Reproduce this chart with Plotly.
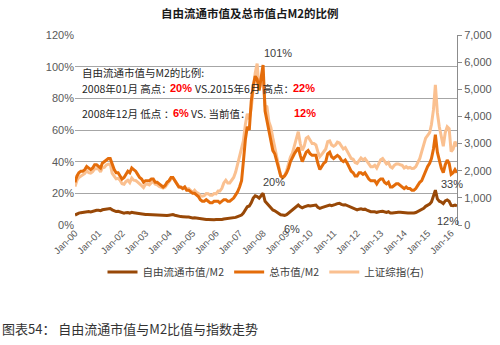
import pandas as pd
import plotly.graph_objects as go

# Monthly observations, Jan 2000 - Apr 2016
dates = pd.date_range("2000-01-01", periods=196, freq="MS")

# Free-float market cap / M2 (%)
free_float_m2 = [
    6.3, 7.0, 7.5, 7.8, 8.0, 8.2, 8.6, 8.5, 8.3, 8.6, 9.2, 9.3,
    9.3, 9.0, 9.6, 9.8, 10.2, 10.5, 10.4, 9.6, 9.0, 8.5, 8.6, 8.2,
    7.6, 7.5, 7.8, 7.9, 7.5, 8.0, 7.8, 7.6, 7.3, 7.0, 6.8, 6.5,
    6.7, 6.7, 6.6, 6.8, 6.8, 6.5, 6.4, 6.2, 6.0, 5.8, 5.8, 6.0,
    6.2, 6.5, 6.6, 6.2, 5.8, 5.4, 5.3, 5.2, 5.3, 5.0, 5.0, 4.7,
    4.5, 4.6, 4.4, 4.2, 3.8, 3.5, 3.4, 3.5, 3.5, 3.3, 3.2, 3.3,
    3.4, 3.4, 3.3, 3.5, 3.8, 4.0, 4.0, 4.0, 4.2, 4.5, 4.8, 5.3,
    5.8, 6.3, 7.5, 9.5, 11.5, 12.0, 14.0, 17.0, 18.5, 18.0, 17.0, 18.5,
    20.0, 15.0, 13.7, 12.5, 11.5, 9.5, 9.0, 8.0, 7.4, 6.5, 6.3, 6.0,
    6.5, 7.5, 8.5, 9.5, 10.5, 11.5, 12.6, 11.5, 10.8, 11.4, 12.0, 12.3,
    12.0, 12.2, 12.4, 12.6, 11.2, 10.5, 11.0, 11.5, 11.8, 12.6, 12.6, 12.2,
    12.4, 13.0, 13.5, 13.7, 13.0, 12.6, 12.8, 12.2, 11.6, 11.0, 10.8, 9.8,
    9.5, 10.0, 10.2, 9.8, 10.0, 9.4, 8.8, 8.4, 8.3, 8.4, 8.0, 8.4,
    8.6, 8.7, 8.3, 8.0, 8.4, 7.6, 7.6, 7.9, 8.2, 8.1, 8.0, 7.8,
    7.6, 7.8, 7.6, 7.6, 7.5, 7.6, 7.9, 8.6, 9.3, 9.8, 10.6, 11.8,
    12.6, 13.2, 14.5, 18.0, 22.0, 16.5, 15.0, 14.5, 13.5, 15.2, 15.8, 15.0,
    12.4, 12.2, 12.6, 12.0,
]

# Total market cap / M2 (%)
total_m2 = [
    27, 31, 33, 34, 34, 35, 37, 36, 35, 36, 38, 38,
    37, 36, 39, 40, 41, 42, 42, 38, 35, 33, 33, 31,
    29, 30, 32, 34, 33, 36, 35, 34, 32, 30, 29, 27,
    28, 28, 28, 29, 29, 27, 27, 26, 25, 24, 25, 27,
    28, 30, 30, 28, 26, 24, 24, 23, 24, 22, 22, 21,
    20, 20, 19, 18, 16, 15, 15, 16, 15, 14, 14, 15,
    15, 15, 14, 15, 16, 16, 15, 15, 16, 17, 19, 21,
    24, 28, 40, 54, 62, 60, 78, 88, 94, 92, 85, 92,
    101, 72, 66, 60, 55, 47, 45, 40, 36, 31, 30, 31,
    33, 36, 40, 43, 45, 47, 49, 44, 40, 43, 46, 47,
    45, 44, 44, 44, 39, 35, 37, 39, 40, 45, 46, 43,
    42, 43, 44, 43, 41, 40, 41, 39, 36, 34, 33, 31,
    31, 33, 33, 32, 33, 31, 29, 28, 28, 28, 26, 28,
    29, 29, 27, 26, 27, 24, 24, 25, 26, 26, 25, 24,
    23, 24, 23, 23, 22, 22, 23, 25, 27, 28, 31, 35,
    37, 39, 42, 48, 57, 46, 40, 36, 33, 38, 41, 39,
    32, 33, 35, 33,
]

# Shanghai Composite Index (right axis)
sh_composite = [
    1420, 1650, 1750, 1800, 1830, 1900, 2000, 1930, 1910, 1960, 2070, 2070,
    2070, 1960, 2110, 2120, 2210, 2240, 2250, 1900, 1800, 1700, 1720, 1650,
    1520, 1500, 1600, 1650, 1560, 1730, 1650, 1640, 1580, 1500, 1450, 1380,
    1500, 1510, 1480, 1560, 1580, 1500, 1480, 1420, 1380, 1360, 1400, 1500,
    1600, 1700, 1740, 1620, 1550, 1420, 1380, 1360, 1400, 1320, 1340, 1270,
    1200, 1280, 1200, 1160, 1080, 1060, 1080, 1160, 1150, 1100, 1100, 1160,
    1150, 1250, 1250, 1350, 1550, 1650, 1550, 1550, 1650, 1750, 1950, 2250,
    2600, 2800, 3100, 3700, 4100, 3900, 4300, 5000, 5600, 5950, 5000, 5200,
    5400, 4400, 4360, 3800, 3600, 3200, 2900, 2500, 2150, 1800, 1730, 1820,
    2000, 2300, 2500, 2650, 2900, 3200, 3440, 3000, 2750, 2900, 3200, 3250,
    3100, 3000, 3000, 2950, 2700, 2520, 2600, 2700, 2800, 3070, 3100, 2950,
    2900, 2950, 3050, 3020, 2900, 2800, 2850, 2700, 2550, 2450, 2420, 2300,
    2270, 2400, 2470, 2400, 2450, 2350, 2250, 2150, 2150, 2200, 2100, 2250,
    2400, 2450, 2330, 2250, 2300, 2150, 2100, 2200, 2250, 2250, 2220, 2200,
    2100, 2150, 2100, 2120, 2080, 2090, 2150, 2300, 2450, 2700, 3000, 3200,
    3300, 3400, 3700, 4240, 5160, 4130, 3620, 3300, 2900, 3400, 3620, 3550,
    2700, 2800, 3070, 2890,
]

series_names = ["自由流通市值/M2", "总市值/M2", "上证综指(右)"]
colors = ["#984807", "#E46C0A", "#FAC090"]

CJK = "Noto Sans CJK SC"
LAT = "Liberation Sans"
GREY = "#595959"

# plot-area geometry in pixels
L, R, T, B = 75, 457, 35, 225


def px(xp):
    return (xp - L) / (R - L)


def py(yp):
    return (B - yp) / (B - T)


fig = go.Figure()

# index on the base axis (drawn underneath), ratios on the overlaid axis
fig.add_trace(go.Scatter(x=dates, y=sh_composite, name=series_names[2], mode="lines",
                         line=dict(color=colors[2], width=3), yaxis="y", legendrank=3))
fig.add_trace(go.Scatter(x=dates, y=free_float_m2, name=series_names[0], mode="lines",
                         line=dict(color=colors[0], width=3), yaxis="y2", legendrank=1))
fig.add_trace(go.Scatter(x=dates, y=total_m2, name=series_names[1], mode="lines",
                         line=dict(color=colors[1], width=3), yaxis="y2", legendrank=2))

annotations = []

# value labels tied to the data points
def value_label(date, val, text, axis, dx, dy):
    annotations.append(dict(x=date, y=val, xref="x", yref=axis, text=text, showarrow=False,
                            xshift=dx, yshift=dy, font=dict(family=LAT, size=11, color="#404040")))

value_label(dates[96], total_m2[96], f"{total_m2[96]}%", "y2", 15, 12)
value_label(dates[96], free_float_m2[96], f"{free_float_m2[96]:.0f}%", "y2", 11, 11)
value_label(dates[107], free_float_m2[107], f"{free_float_m2[107]:.0f}%", "y2", 7, -13)
value_label(dates[-1], total_m2[-1], f"{total_m2[-1]}%", "y2", -5, -11)
value_label(dates[-1], free_float_m2[-1], f"{free_float_m2[-1]:.0f}%", "y2", -9, -15)

# commentary text block
def text_at(xp, yp, text, color="#262626", bold=False, size=10.5, family=CJK):
    annotations.append(dict(x=px(xp), y=py(yp), xref="paper", yref="paper", xanchor="left",
                            yanchor="middle", showarrow=False,
                            text=f"<b>{text}</b>" if bold else text,
                            font=dict(family=family, size=size, color=color)))

text_at(80, 72, "自由流通市值与M2的比例:")
text_at(80, 88, "2008年01月 高点：")
text_at(168, 88, "20%", color="#FF0000", bold=True, family=LAT, size=11)
text_at(193, 88, "VS.2015年6月 高点：")
text_at(291, 88, "22%", color="#FF0000", bold=True, family=LAT, size=11)
text_at(80, 113, "2008年12月 低点 ：")
text_at(171, 113, "6%", color="#FF0000", bold=True, family=LAT, size=11)
text_at(189, 113, "VS. 当前值：")
text_at(292, 113, "12%", color="#FF0000", bold=True, family=LAT, size=11)

# chart title
annotations.append(dict(x=px(250), y=py(13), xref="paper", yref="paper", xanchor="center",
                        yanchor="middle", showarrow=False,
                        text="<b>自由流通市值及总市值占M2的比例</b>",
                        font=dict(family=CJK, size=11.5, color="#1a1a1a")))

# figure caption
annotations.append(dict(x=px(0), y=py(328), xref="paper", yref="paper", xanchor="left",
                        yanchor="middle", showarrow=False,
                        text="图表54： 自由流通市值与M2比值与指数走势",
                        font=dict(family=CJK, size=13, color="#333333")))

fig.update_layout(
    width=500, height=345,
    margin=dict(l=L, r=500 - R, t=T, b=345 - B, autoexpand=False),
    paper_bgcolor="white", plot_bgcolor="white",
    showlegend=True,
    legend=dict(orientation="h", x=0.5, xanchor="center", y=py(272), yanchor="middle",
                font=dict(family=CJK, size=10.5, color="#404040"), itemwidth=30,
                traceorder="normal", bgcolor="rgba(0,0,0,0)"),
    xaxis=dict(type="date", range=[dates[0], dates[-1]], tickformat="%b-%y", dtick="M12",
               tick0="2000-01-01", tickangle=-45, showgrid=False, zeroline=False,
               showline=False, ticks="", tickfont=dict(family=LAT, size=9.5, color=GREY)),
    yaxis=dict(side="right", range=[0, 7000], dtick=1000, tickformat=",", showgrid=False,
               zeroline=False, showline=True, linecolor="#8c8c8c", linewidth=1,
               ticks="outside", ticklen=4, tickcolor="#8c8c8c",
               tickfont=dict(family=LAT, size=11, color=GREY)),
    yaxis2=dict(overlaying="y", side="left", range=[0, 120], dtick=20, ticksuffix="%",
                showgrid=True, gridcolor="#a6a6a6", gridwidth=1, zeroline=False,
                showline=False, tickfont=dict(family=LAT, size=11, color=GREY)),
    annotations=annotations,
)

fig.write_html("out.html")
